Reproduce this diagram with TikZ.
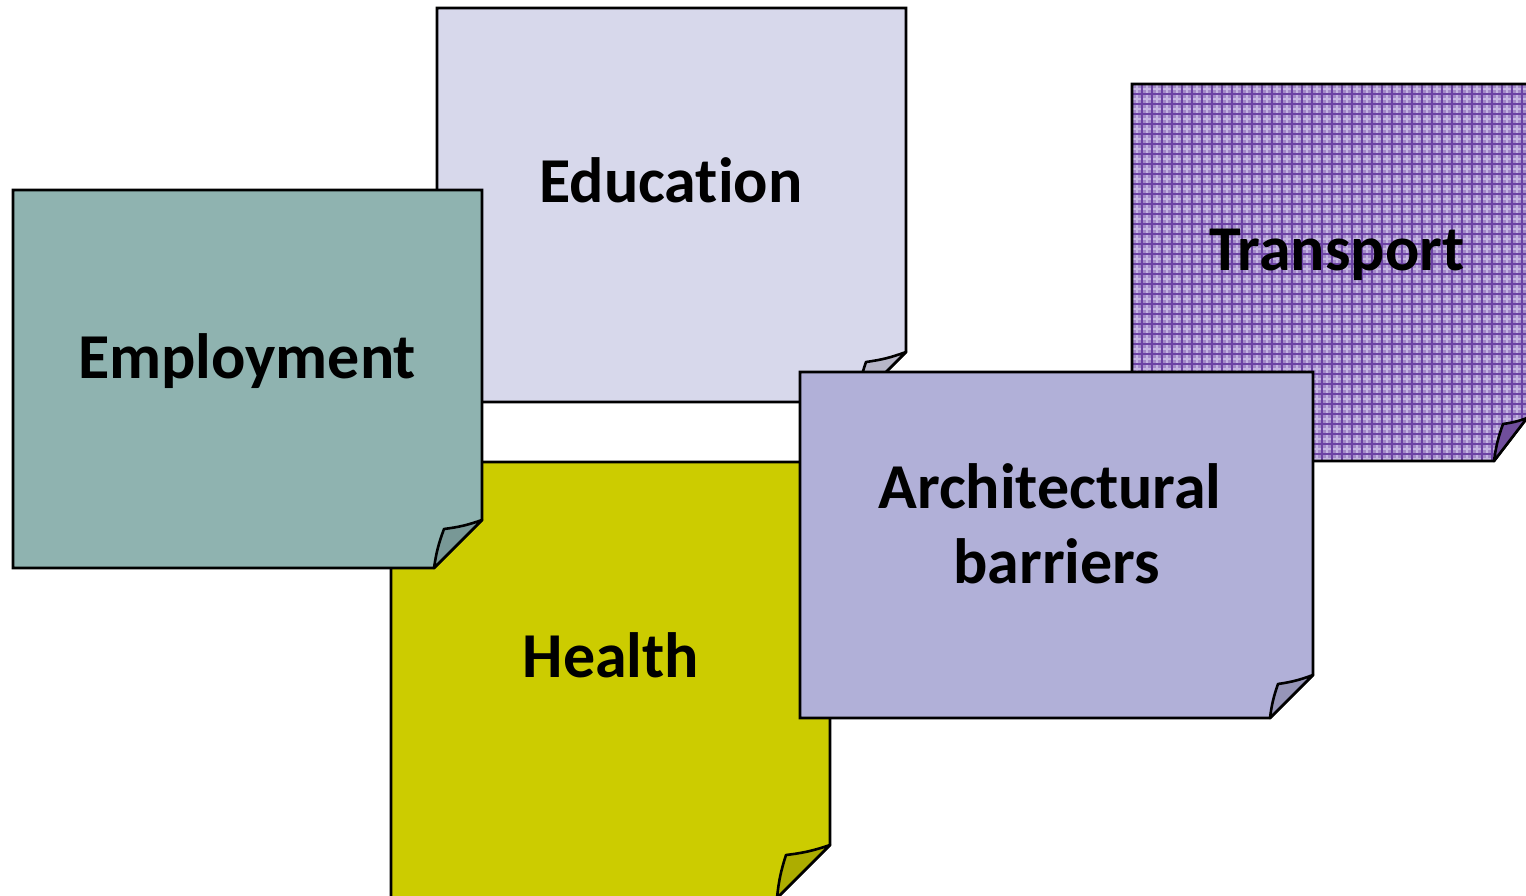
\documentclass[tikz,border=0pt]{standalone}
\usepackage{fontspec}
\setmainfont{Carlito}[Ligatures=NoCommon]
\definecolor{edu}{RGB}{215,216,235}
\definecolor{eduflap}{RGB}{183,182,200}
\definecolor{emp}{RGB}{143,179,176}
\definecolor{empflap}{RGB}{120,152,150}
\definecolor{hea}{RGB}{204,204,0}
\definecolor{heaflap}{RGB}{173,173,0}
\definecolor{arc}{RGB}{177,176,216}
\definecolor{arcflap}{RGB}{150,149,184}
\definecolor{trabg}{RGB}{162,138,200}
\definecolor{traline}{RGB}{108,66,164}
\definecolor{tralight}{RGB}{196,180,226}
\definecolor{traflap}{RGB}{112,78,156}
\tikzset{
  notepaper/.style={draw=black, line width=2.6pt, line join=miter},
  flap/.style={draw=black, line width=2.6pt, line join=round},
  label/.style={font=\fontsize{64}{76}\selectfont\bfseries, anchor=base, inner sep=0pt, align=center},
}
\begin{document}
\begin{tikzpicture}[x=1pt,y=-1pt]
\clip (0,0) rectangle (1526,896);
\fill[white] (0,0) rectangle (1526,896);
% Education
\draw[notepaper, fill=edu] (437,8) -- (906,8) -- (906,352) -- (856,402) -- (437,402) -- cycle;
\draw[flap, fill=eduflap] (906,352) to[bend left=6] (866,362) to[bend right=6] (857,401) -- cycle;
\node[label] (education) at (671,203) {Education};
% Health
\draw[notepaper, fill=hea] (391,462) -- (830,462) -- (830,845) -- (776,899) -- (391,899) -- cycle;
\draw[flap, fill=heaflap] (830,845) to[bend left=6] (786,855) to[bend right=6] (777,898) -- cycle;
\node[label] (health) at (611,677) {Health};
% Employment
\draw[notepaper, fill=emp] (13,190) -- (482,190) -- (482,520) -- (434,568) -- (13,568) -- cycle;
\draw[flap, fill=empflap] (482,520) to[bend left=6] (444,529) to[bend right=6] (434,568) -- cycle;
\node[label] (employment) at (247,378) {Employment};
% Transport
\fill[trabg] (1132,84) -- (1530,84) -- (1530,414) -- (1494,461) -- (1132,461) -- cycle;
\begin{scope}
\clip (1132,84) -- (1530,84) -- (1530,414) -- (1494,461) -- (1132,461) -- cycle;
\foreach \x in {1137,1147,...,1530} \draw[tralight, line width=1.2pt] (\x,84) -- (\x,461);
\foreach \y in {89,99,...,461} \draw[tralight, line width=1.2pt] (1132,\y) -- (1530,\y);
\foreach \x in {1132,1142,...,1530} \draw[traline, line width=1.5pt] (\x,84) -- (\x,461);
\foreach \y in {84,94,...,461} \draw[traline, line width=1.5pt] (1132,\y) -- (1530,\y);
\end{scope}
\draw[notepaper] (1530,84) -- (1132,84) -- (1132,461) -- (1494,461) -- (1527,418);
\draw[flap, fill=traflap] (1527,418) to[bend left=6] (1503,424) to[bend right=6] (1494,461) -- cycle;
\node[label] (transport) at (1337,270) {Transport};
% Architectural barriers
\draw[notepaper, fill=arc] (800,372) -- (1313,372) -- (1313,675) -- (1270,718) -- (800,718) -- cycle;
\draw[flap, fill=arcflap] (1313,675) to[bend left=6] (1278,684) to[bend right=6] (1270,718) -- cycle;
\node[label] (arch1) at (1050,508) {Architectural};
\node[label] (arch2) at (1057,583) {barriers};
\end{tikzpicture}
\end{document}
